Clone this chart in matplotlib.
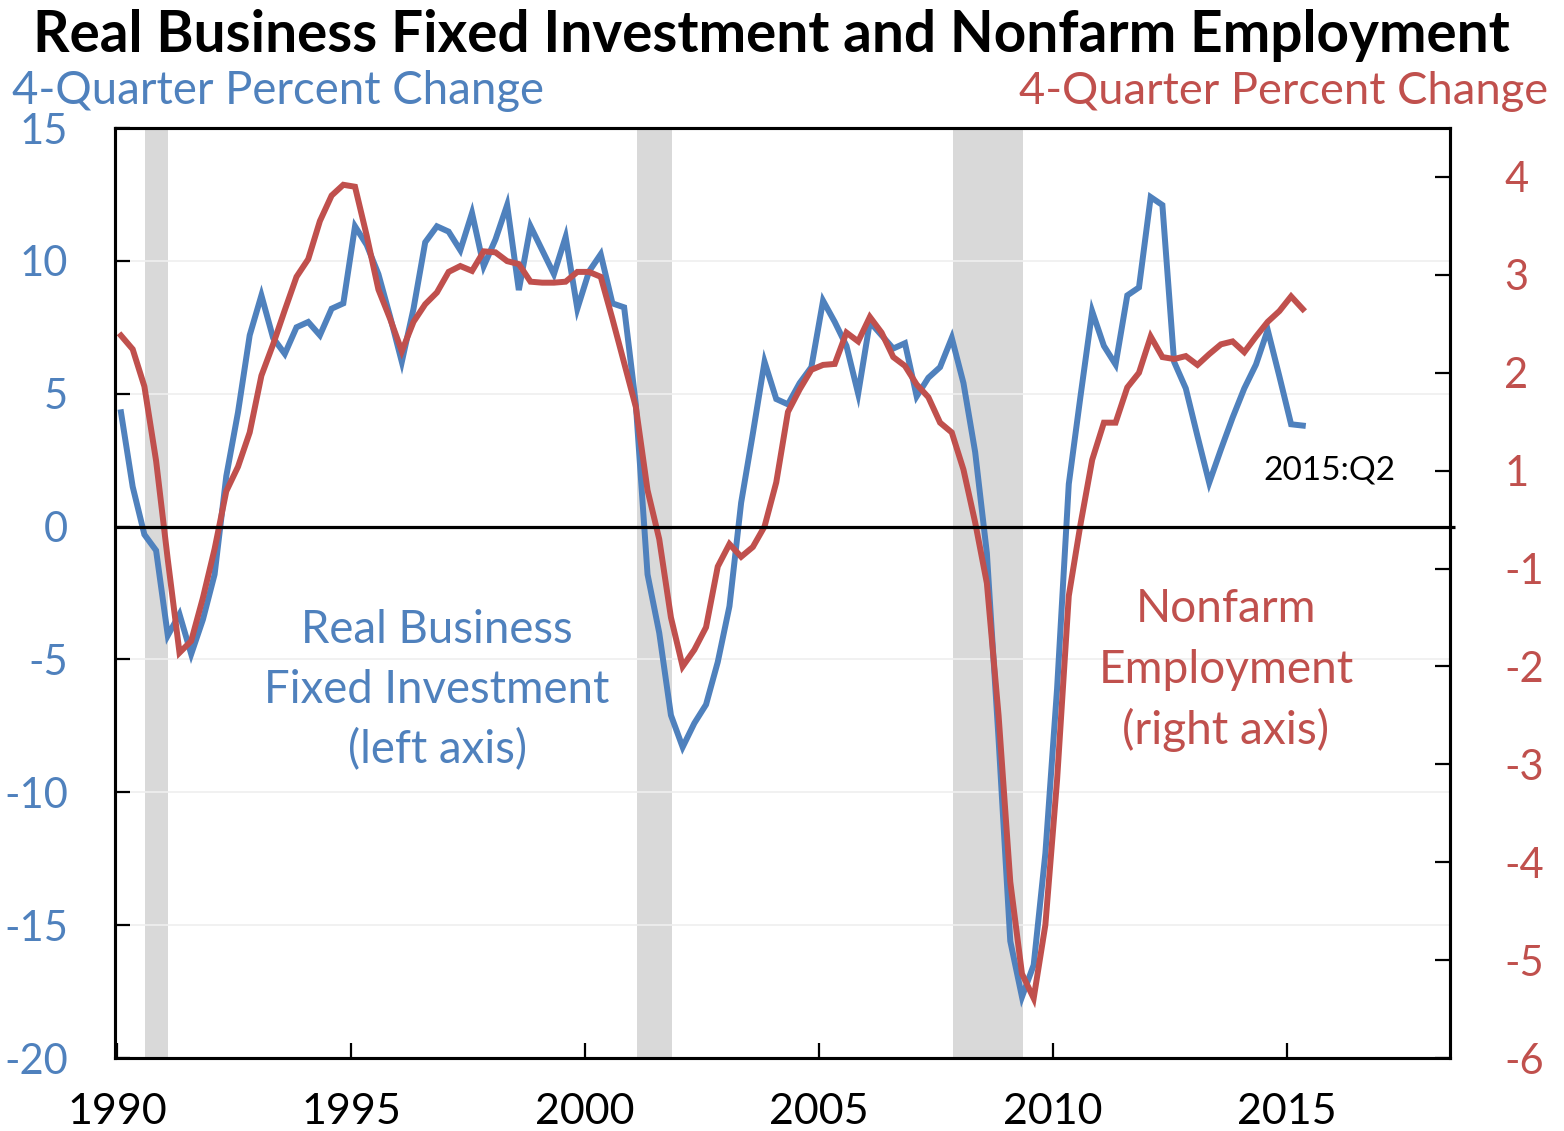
import matplotlib
matplotlib.use("Agg")
import matplotlib.pyplot as plt
from matplotlib.transforms import blended_transform_factory

W, H, DPI = 1564, 1131, 100

# ---------------- data (quarterly, 1990Q1 .. 2015Q2) ----------------
start_year = 1990
bfi = [  # Real business fixed investment, 4-quarter % change (left axis)
    4.3, 1.5, -0.3, -0.9,
    -4.1, -3.3, -4.8, -3.5,
    -1.8, 1.9, 4.3, 7.2,
    8.7, 7.1, 6.5, 7.5,
    7.7, 7.2, 8.2, 8.4,
    11.3, 10.6, 9.5, 7.9,
    6.2, 8.2, 10.7, 11.3,
    11.1, 10.4, 11.8, 9.8,
    10.8, 12.1, 8.9, 11.3,
    10.4, 9.5, 10.9, 8.2,
    9.6, 10.25, 8.4, 8.25,
    4.6, -1.8, -4.0, -7.1,
    -8.3, -7.4, -6.7, -5.1,
    -3.0, 0.9, 3.5, 6.2,
    4.8, 4.6, 5.4, 6.0,
    8.5, 7.7, 6.8, 5.0,
    7.7, 7.2, 6.7, 6.9,
    4.9, 5.6, 6.0, 7.1,
    5.4, 2.8, -1.0, -8.0,
    -15.6, -17.7, -16.5, -12.3,
    -6.1, 1.6, 4.9, 8.1,
    6.8, 6.1, 8.7, 9.0,
    12.4, 12.1, 6.2, 5.2,
    3.4, 1.65, 2.9, 4.1,
    5.2, 6.1, 7.4, 5.65,
    3.85, 3.8,
]
emp = [  # Nonfarm employment, 4-quarter % change (right axis)
    1.88, 1.74, 1.36, 0.60,
    -0.41, -1.36, -1.24, -0.80,
    -0.30, 0.29, 0.54, 0.89,
    1.47, 1.79, 2.14, 2.48,
    2.66, 3.05, 3.31, 3.42,
    3.40, 2.90, 2.35, 2.05,
    1.72, 2.02, 2.20, 2.32,
    2.53, 2.59, 2.54, 2.74,
    2.73, 2.64, 2.61, 2.43,
    2.42, 2.42, 2.43, 2.53,
    2.53, 2.48, 2.05, 1.60,
    1.15, 0.30, -0.20, -1.00,
    -1.50, -1.33, -1.10, -0.48,
    -0.25, -0.38, -0.28, -0.07,
    0.38, 1.10, 1.33, 1.53,
    1.58, 1.59, 1.91, 1.82,
    2.07, 1.91, 1.66, 1.57,
    1.38, 1.25, 0.99, 0.89,
    0.51, -0.03, -0.65, -2.00,
    -3.70, -4.64, -4.89, -4.14,
    -2.66, -0.78, -0.05, 0.61,
    0.99, 0.99, 1.35, 1.50,
    1.87, 1.66, 1.64, 1.67,
    1.58, 1.69, 1.79, 1.82,
    1.71, 1.87, 2.02, 2.13,
    2.28, 2.15,
]
rec_start = [1990.60, 2001.11, 2007.86]
rec_end = [1991.10, 2001.86, 2009.36]

left_ticks = [-20, -15, -10, -5, 0, 5, 10, 15]
left_labels = ["-20", "-15", "-10", "-5", "0", "5", "10", "15"]
right_ticks = [3.5, 2.5, 1.5, 0.5, -0.5, -1.5, -2.5, -3.5, -4.5, -5.5]
right_labels = ["4", "3", "2", "1", "-1", "-2", "-3", "-4", "-5", "-6"]
x_ticks = [1990, 1995, 2000, 2005, 2010, 2015]
x_labels = ["1990", "1995", "2000", "2005", "2010", "2015"]

title = "Real Business Fixed Investment and Nonfarm Employment"
unit_label = "4-Quarter Percent Change"
blue_note = ["Real Business", "Fixed Investment", "(left axis)"]
red_note = ["Nonfarm", "Employment", "(right axis)"]
last_label = "2015:Q2"

# ---------------- style ----------------
BLUE = "#4F81BD"
RED = "#C0504D"
GRAY = "#D9D9D9"
GRID = "#EFEFEF"
plt.rcParams["font.family"] = ["Lato", "DejaVu Sans"]

dates = [start_year + i / 4 + 0.085 for i in range(len(bfi))]

fig = plt.figure(figsize=(W / DPI, H / DPI), dpi=DPI)
ax = fig.add_axes([115 / W, 1 - 1058 / H, (1450 - 115) / W, (1058 - 128) / H])
ax2 = ax.twinx()

ax.set_xlim(1989.957, 2018.48)
ax.set_ylim(-20, 15)
ax2.set_ylim(-5.5, 4.0)

for s, e in zip(rec_start, rec_end):
    ax.axvspan(s, e, color=GRAY, lw=0, zorder=0)

for t in left_ticks:
    if t not in (0, 15, -20):
        ax.axhline(t, color=GRID, lw=1.2, zorder=0.5)

ax.plot(dates, bfi, color=BLUE, lw=4.3, solid_joinstyle="miter", zorder=2)
ax2.plot(dates, emp, color=RED, lw=4.3, solid_joinstyle="miter", zorder=2)

# zero line of the left axis, drawn above both series
tr = blended_transform_factory(ax2.transAxes, ax.transData)
ax2.plot([0, 1.004], [0, 0], color="black", lw=2.3, transform=tr, zorder=5,
         clip_on=False, solid_capstyle="butt")

ax.set_yticks(left_ticks)
ax.set_yticklabels(left_labels)
ax.set_xticks(x_ticks)
ax.set_xticklabels(x_labels)
ax2.set_yticks(right_ticks)
ax2.set_yticklabels(right_labels)

ax.tick_params(axis="y", direction="in", length=11, width=1.6, pad=34,
               labelsize=30, labelcolor=BLUE, left=True, right=False)
ax.tick_params(axis="x", direction="in", length=11, width=1.6, pad=25,
               labelsize=31, labelcolor="black", top=False)
ax2.tick_params(axis="y", direction="in", length=11, width=1.6, pad=39,
                labelsize=30, labelcolor=RED, right=True, left=False)

for a in (ax, ax2):
    for sp in a.spines.values():
        sp.set_linewidth(2.2)
        sp.set_color("black")

r = fig.canvas.get_renderer()


def ftext(x, y, s, target_w=None, size=30, **kw):
    t = fig.text(x / W, 1 - y / H, s, fontsize=size, va="baseline", **kw)
    if target_w:
        w = t.get_window_extent(renderer=r).width
        t.set_fontsize(size * target_w / w)
    return t


ftext(771.5, 52, title, 1477, ha="center", fontweight="bold", color="black")
ftext(12, 104, unit_label, 531, ha="left", color=BLUE)
ftext(1548, 104, unit_label, 528, ha="right", color=RED)

# series annotations
tb = ftext(437, 703, blue_note[1], 345, ha="center", color=BLUE)
bs = tb.get_fontsize()
ftext(437, 643, blue_note[0], None, bs, ha="center", color=BLUE)
ftext(437, 763, blue_note[2], None, bs, ha="center", color=BLUE)

trd = ftext(1226, 683, red_note[1], 255, ha="center", color=RED)
rs = trd.get_fontsize()
ftext(1226, 622, red_note[0], None, rs, ha="center", color=RED)
ftext(1226, 744, red_note[2], None, rs, ha="center", color=RED)

ftext(1329, 479, last_label, 132, ha="center", color="black")

fig.savefig("out.png", dpi=DPI)
